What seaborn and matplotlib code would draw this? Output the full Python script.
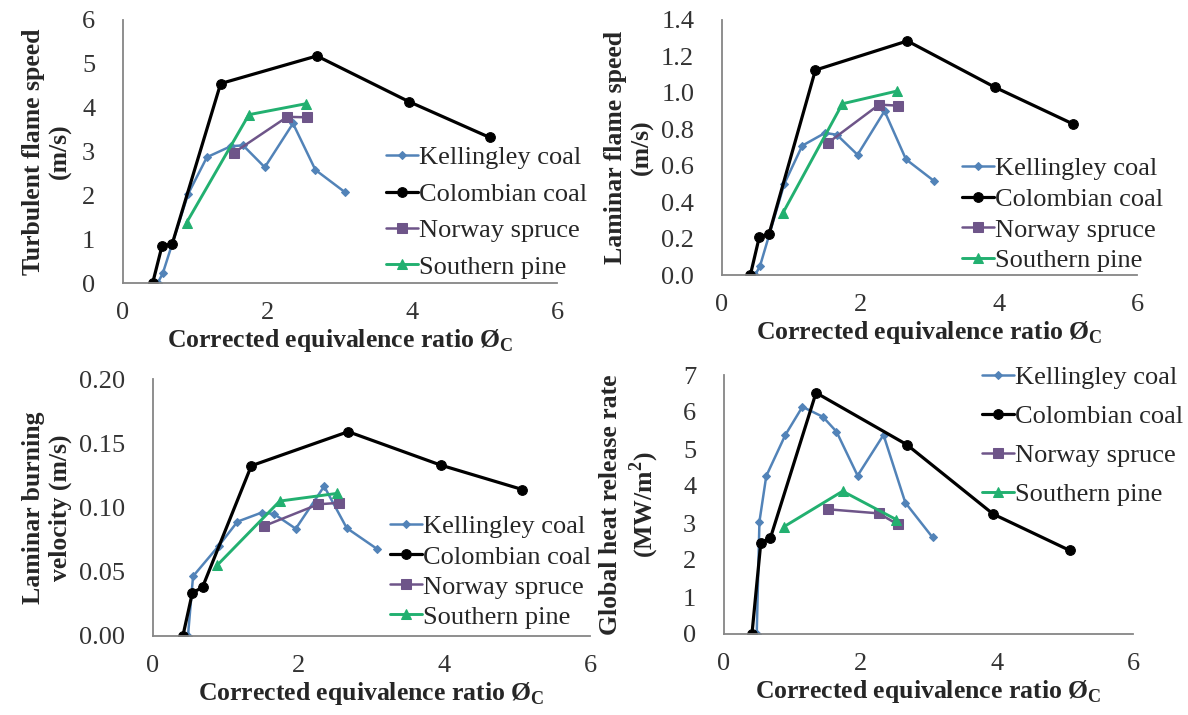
import numpy as np
import pandas as pd
import matplotlib
matplotlib.use("Agg")
import matplotlib.pyplot as plt
import seaborn as sns

# Series names / colours
names = ["Kellingley coal", "Colombian coal", "Norway spruce", "Southern pine"]
colors = ["#5283b8", "#000000", "#6e5589", "#22b070"]

# Corrected equivalence ratio values (x)
kel_x = [0.48, 0.55, 0.90, 1.16, 1.49, 1.66, 1.96, 2.35, 2.66, 3.07]
kel_x_hr = [0.48, 0.52, 0.62, 0.90, 1.15, 1.45, 1.65, 1.96, 2.34, 2.66, 3.06]
col_x = [0.41, 0.54, 0.68, 1.35, 2.68, 3.95, 5.07]
nor_x = [1.53, 2.27, 2.55]
sou_x = [0.88, 1.74, 2.53]

# Turbulent flame speed (m/s)
kel_tfs = [0, 0.22, 2.03, 2.87, 3.12, 3.14, 2.64, 3.64, 2.58, 2.07]
col_tfs = [0, 0.85, 0.89, 4.55, 5.18, 4.14, 3.32]
nor_tfs = [2.97, 3.79, 3.78]
sou_tfs = [1.38, 3.84, 4.09]

# Laminar flame speed (m/s)
kel_lfs = [0, 0.05, 0.50, 0.71, 0.78, 0.77, 0.66, 0.90, 0.635, 0.515]
col_lfs = [0, 0.21, 0.225, 1.125, 1.285, 1.03, 0.83]
nor_lfs = [0.725, 0.935, 0.93]
sou_lfs = [0.34, 0.94, 1.01]

# Laminar burning velocity (m/s)
kel_lbv = [0, 0.0465, 0.07, 0.089, 0.096, 0.095, 0.0835, 0.1165, 0.084, 0.068]
col_lbv = [0, 0.0335, 0.038, 0.1325, 0.159, 0.133, 0.114]
nor_lbv = [0.0857, 0.1025, 0.1036]
sou_lbv = [0.055, 0.105, 0.111]

# Global heat release rate (MW/m2)
kel_hrr = [0, 3.04, 4.27, 5.38, 6.14, 5.87, 5.47, 4.28, 5.38, 3.55, 2.61]
col_hrr = [0, 2.47, 2.59, 6.52, 5.12, 3.24, 2.26]
nor_hrr = [3.37, 3.26, 2.96]
sou_hrr = [2.90, 3.86, 3.09]

sns.set_style("white")
plt.rcParams["font.family"] = ["Liberation Serif", "DejaVu Serif"]
plt.rcParams["mathtext.fontset"] = "custom"
plt.rcParams["mathtext.rm"] = "Liberation Serif"
plt.rcParams["mathtext.bf"] = "Liberation Serif:bold"

W, H = 1188, 715
fig = plt.figure(figsize=(W / 100, H / 100), dpi=100)


def rect(l, r, t, b):
    return [l / W, 1 - b / H, (r - l) / W, (b - t) / H]


xlab = "Corrected equivalence ratio Ø$_\\mathbf{C}$"

paneles = [
    dict(r=rect(123, 557, 20, 283), ys=[kel_tfs, col_tfs, nor_tfs, sou_tfs], kx=kel_x,
         ylim=6, yt=np.arange(0, 7, 1), fmt="{:.0f}", ylab="Turbulent flame speed\n(m/s)",
         ylx=-0.118, leg=(386, 146), ls=0.49),
    dict(r=rect(722, 1137, 20, 275), ys=[kel_lfs, col_lfs, nor_lfs, sou_lfs], kx=kel_x,
         ylim=1.4, yt=np.arange(0, 1.41, 0.2), fmt="{:.1f}", ylab="Laminar flame speed\n(m/s)",
         ylx=-0.164, leg=(962, 157), ls=0.27),
    dict(r=rect(153, 590, 379, 636), ys=[kel_lbv, col_lbv, nor_lbv, sou_lbv], kx=kel_x,
         ylim=0.2, yt=np.arange(0, 0.201, 0.05), fmt="{:.2f}", ylab="Laminar burning\nvelocity (m/s)",
         ylx=-0.185, leg=(390, 515), ls=0.25),
    dict(r=rect(724, 1133, 375, 634), ys=[kel_hrr, col_hrr, nor_hrr, sou_hrr], kx=kel_x_hr,
         ylim=7, yt=np.arange(0, 8, 1), fmt="{:.0f}", ylab="Global heat release rate\n(MW/m$^\\mathbf{2}$)",
         ylx=-0.155, leg=(982, 366), ls=0.58),
]

for p in paneles:
    ax = fig.add_axes(p["r"])
    xs = [p["kx"], col_x, nor_x, sou_x]
    estilos = [("D", 4, 1.8), ("o", 7, 2.3), ("s", 7, 1.8), ("^", 7, 2.1)]
    for x, y, nome, c, (m, ms, lw) in zip(xs, p["ys"], names, colors, estilos):
        sns.lineplot(x=x, y=y, ax=ax, color=c, marker=m, markersize=ms, linewidth=lw,
                     markeredgecolor=c, label=nome, sort=False, estimator=None)
    ax.set_xlim(0, 6)
    ax.set_ylim(0, p["ylim"])
    ax.set_xticks([0, 2, 4, 6])
    ax.set_yticks(p["yt"])
    ax.set_yticklabels([p["fmt"].format(v) for v in p["yt"]])
    for s in ["top", "right"]:
        ax.spines[s].set_visible(False)
    for s in ["left", "bottom"]:
        ax.spines[s].set_color("#868686")
        ax.spines[s].set_linewidth(1.3)
    ax.tick_params(direction="out", length=6, width=1.2, color="#868686",
                   labelsize=19, labelcolor="#333333")
    ax.tick_params(axis="x", pad=8)
    ax.tick_params(axis="y", pad=14)
    ax.set_xlabel(xlab, fontsize=18.5, fontweight="bold", labelpad=2)
    ax.set_ylabel(p["ylab"], fontsize=18.5, fontweight="bold", linespacing=1.2)
    ax.yaxis.set_label_coords(p["ylx"], 0.5)
    lx, ly = p["leg"]
    ax.legend(loc="upper left", bbox_to_anchor=(lx / W, 1 - ly / H), bbox_transform=fig.transFigure,
              frameon=False, fontsize=19, handlelength=1.2, handletextpad=0.05,
              borderpad=0, borderaxespad=0, labelspacing=p["ls"])

fig.savefig("out.png", dpi=100)
